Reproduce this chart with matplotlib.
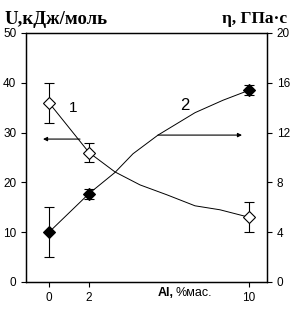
import matplotlib
matplotlib.use("Agg")
import matplotlib.pyplot as plt

# curve 1: U (left axis), open diamonds
al_pts = [0, 2, 10]
u_vals = [36, 26, 13]
u_err = [4, 2, 3]
# smooth line through curve 1
u_line_x = [0, 2, 3.3, 4.55, 5.9, 7.3, 8.55, 10]
u_line_y = [36, 26, 22.1, 19.5, 17.5, 15.3, 14.5, 13]

# curve 2: eta (right axis), filled diamonds
eta_vals = [4, 7.1, 15.4]
eta_err = [2, 0.4, 0.4]
eta_line_x = [0, 2, 3.3, 4.2, 5.45, 7.3, 8.7, 10]
eta_line_y = [4, 7.1, 8.8, 10.3, 11.8, 13.6, 14.6, 15.4]

x_ticks = [0, 2, 10]
u_ticks = [0, 10, 20, 30, 40, 50]
eta_ticks = [0, 4, 8, 12, 16, 20]

plt.rcParams['font.family'] = ['Liberation Sans', 'DejaVu Sans']

fig = plt.figure(figsize=(2.9, 3.1), dpi=100)
ax = fig.add_axes([26/290, 1-282/310, (267-26)/290, (282-33)/310])
ax2 = ax.twinx()

ax.plot(u_line_x, u_line_y, color='black', lw=0.7)
ax.errorbar(al_pts, u_vals, yerr=u_err, fmt='D', mfc='white', mec='black',
            ms=6, mew=0.8, ecolor='black', elinewidth=0.8, capsize=3.5, capthick=0.8)

ax2.plot(eta_line_x, eta_line_y, color='black', lw=0.7)
ax2.errorbar(al_pts, eta_vals, yerr=eta_err, fmt='D', mfc='black', mec='black',
             ms=6, mew=0.8, ecolor='black', elinewidth=0.8, capsize=3.5, capthick=0.8)

ax.annotate('', xy=(-0.3, 28.7), xytext=(1.55, 28.7),
            arrowprops=dict(arrowstyle='-|>', color='black', lw=0.8,
                            mutation_scale=6, shrinkA=0, shrinkB=0))
ax2.annotate('', xy=(9.65, 11.8), xytext=(5.45, 11.8),
             arrowprops=dict(arrowstyle='-|>', color='black', lw=0.8,
                             mutation_scale=6, shrinkA=0, shrinkB=0))

ax.text(1.2, 35, '1', fontsize=11, ha='center', va='center')
ax2.text(6.8, 14.2, '2', fontsize=12, ha='center', va='center')

ax.set_xlim(-1.15, 10.9)
ax.set_ylim(0, 50)
ax2.set_ylim(0, 20)
ax.set_xticks(x_ticks)
ax.set_yticks(u_ticks)
ax2.set_yticks(eta_ticks)

for a in (ax, ax2):
    a.tick_params(direction='out', length=3.5, width=0.8, labelsize=8.5, pad=3.5)
    for s in a.spines.values():
        s.set_linewidth(0.9)

fig.text(5/290, 1-19/310, 'U,кДж/моль', fontsize=13.5, fontweight='bold',
         family='Liberation Serif', va='center', ha='left')
fig.text(287/290, 1-19/310, 'η, ГПа·с', fontsize=12.5, fontweight='bold',
         family='Liberation Serif', va='center', ha='right')
fig.text(158/290, 1-293/310, 'Al,', fontsize=9, fontweight='bold', va='center', ha='left')
fig.text(175/290, 1-293/310, '%мас.', fontsize=9, va='center', ha='left')

fig.savefig('out.png', dpi=100)
